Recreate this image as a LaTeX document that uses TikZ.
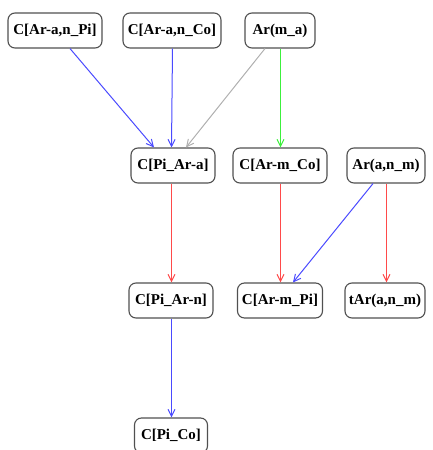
\documentclass[tikz,border=0pt]{standalone}
\usepackage{fontspec}
\setmainfont{Liberation Serif}
\usetikzlibrary{arrows.meta}
\definecolor{eblue}{HTML}{4A4AFF}
\definecolor{ered}{HTML}{FF4A4A}
\definecolor{egreen}{HTML}{3CF03C}
\definecolor{egray}{HTML}{B0B0B0}
\definecolor{bordergray}{HTML}{505050}
\begin{document}
\begin{tikzpicture}[x=1pt,y=-1pt,
  box/.style={draw=bordergray,line width=1.1pt,rounded corners=7pt,minimum height=35pt,inner sep=0pt,
    font=\fontsize{15}{16}\selectfont\bfseries},
  edge/.style={line width=1pt,-{Straight Barb[length=7pt,width=7pt]}}]
\useasboundingbox (0,0) rectangle (433,450);
\node[box,minimum width=94pt] (a1) at (55,30.5) {C[Ar-a,n\_Pi]};
\node[box,minimum width=98pt] (a2) at (172,30.5) {C[Ar-a,n\_Co]};
\node[box,minimum width=70pt] (a3) at (280,30.5) {Ar(m\_a)};
\node[box,minimum width=84pt] (b1) at (173,165.5) {C[Pi\_Ar-a]};
\node[box,minimum width=94pt] (b2) at (280,165.5) {C[Ar-m\_Co]};
\node[box,minimum width=78pt] (b3) at (386,165.5) {Ar(a,n\_m)};
\node[box,minimum width=84pt] (c1) at (171,300.5) {C[Pi\_Ar-n]};
\node[box,minimum width=85pt] (c2) at (280,300.5) {C[Ar-m\_Pi]};
\node[box,minimum width=80pt] (c3) at (385,300.5) {tAr(a,n\_m)};
\node[box,minimum width=73pt] (d1) at (171,435.5) {C[Pi\_Co]};
\draw[edge,eblue] ([xshift=15pt]a1.south) -- ([xshift=-19pt]b1.north);
\draw[edge,eblue] ([xshift=0.5pt]a2.south) -- ([xshift=-1.5pt]b1.north);
\draw[edge,egray] ([xshift=-15pt]a3.south) -- ([xshift=13pt]b1.north);
\draw[edge,egreen] ([xshift=0.5pt]a3.south) -- ([xshift=0.5pt]b2.north);
\draw[edge,ered] ([xshift=-1.5pt]b1.south) -- ([xshift=0.5pt]c1.north);
\draw[edge,ered] ([xshift=0.5pt]b2.south) -- ([xshift=0.5pt]c2.north);
\draw[edge,eblue] ([xshift=-13pt]b3.south) -- ([xshift=13pt]c2.north);
\draw[edge,ered] ([xshift=0.5pt]b3.south) -- ([xshift=1.5pt]c3.north);
\draw[edge,eblue] ([xshift=0.5pt]c1.south) -- ([xshift=0.5pt]d1.north);
\end{tikzpicture}
\end{document}
